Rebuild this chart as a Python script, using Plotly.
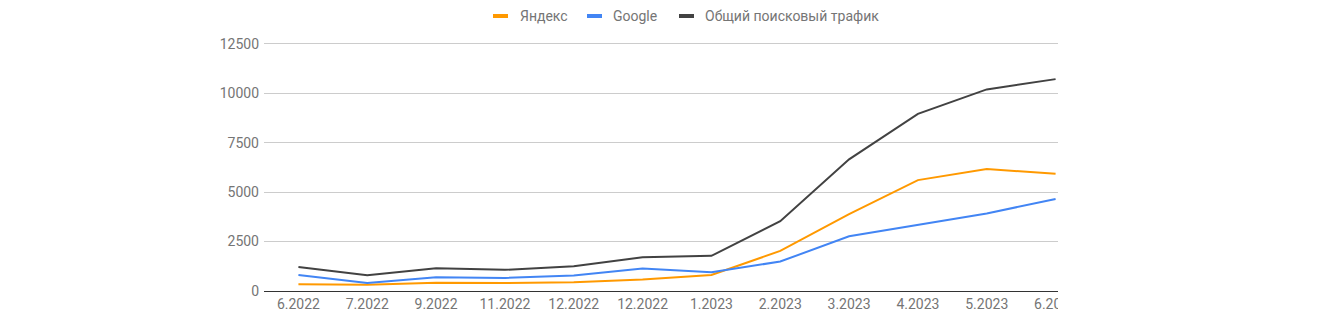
import plotly.graph_objects as go

categories = ["6.2022", "7.2022", "9.2022", "11.2022", "12.2022", "12.2022",
              "1.2023", "2.2023", "3.2023", "4.2023", "5.2023", "6.2023"]
yandex = [340, 310, 420, 400, 440, 580, 810, 2030, 3890, 5610, 6170, 5930]
google = [813, 400, 700, 660, 780, 1135, 950, 1490, 2770, 3330, 3920, 4660]
total = [1220, 800, 1150, 1070, 1250, 1710, 1780, 3530, 6660, 8960, 10200, 10720]
y_ticks = [0, 2500, 5000, 7500, 10000, 12500]
y_ticktext = ["0", "2500", "5000", "7500", "10000", "12500"]
series_names = ["Яндекс", "Google", "Общий поисковый трафик"]
colors = ["#ff9900", "#4285f4", "#424242"]

xidx = list(range(len(categories)))
fig = go.Figure()
for name, vals, col in zip(series_names, [yandex, google, total], colors):
    fig.add_trace(go.Scatter(x=xidx, y=vals, mode="lines", name=name,
                             line=dict(color=col, width=2), showlegend=False))

font = "Roboto"
grey = "#757575"
T, B, L, R = 40, 41, 264, 250
PH = 332 - T - B
PW = 1340 - L - R

fig.update_layout(
    width=1340, height=332,
    margin=dict(l=L, r=R, t=T, b=B),
    paper_bgcolor="white", plot_bgcolor="white",
    font=dict(family=font, size=14, color=grey),
    xaxis=dict(range=[-0.5, 11.5], tickmode="array", tickvals=xidx, ticktext=categories,
               showgrid=False, showline=True, linecolor="#333333", linewidth=1,
               zeroline=False, ticks="", tickfont=dict(size=14, color=grey)),
    yaxis=dict(range=[0, 12700], tickmode="array", tickvals=y_ticks, ticktext=y_ticktext,
               showgrid=True, gridcolor="#cccccc", gridwidth=1, zeroline=False,
               ticks="", ticklabelstandoff=4, tickfont=dict(size=14, color=grey)),
)

def py(pix_y):
    return (332 - B - pix_y) / PH

# manual legend (short swatches)
leg = [(493, 518), (587, 611), (679, 703)]
for (sx, tx), name, col in zip(leg, series_names, colors):
    fig.add_shape(type="rect", xref="paper", yref="paper",
                  x0=(sx - L) / PW, x1=(sx + 15 - L) / PW,
                  y0=py(18), y1=py(14),
                  fillcolor=col, line=dict(width=0), layer="above")
    fig.add_annotation(text=name, xref="paper", yref="paper",
                       x=(tx - L) / PW, y=py(16),
                       xanchor="left", yanchor="middle", showarrow=False,
                       font=dict(family=font, size=14, color=grey))

# crop at right edge as in the reference
fig.add_shape(type="rect", xref="paper", yref="paper",
              x0=(1058 - L) / PW, x1=1.4, y0=-0.3, y1=1.2,
              fillcolor="white", line=dict(width=0), layer="above")

fig.write_html("out.html")
